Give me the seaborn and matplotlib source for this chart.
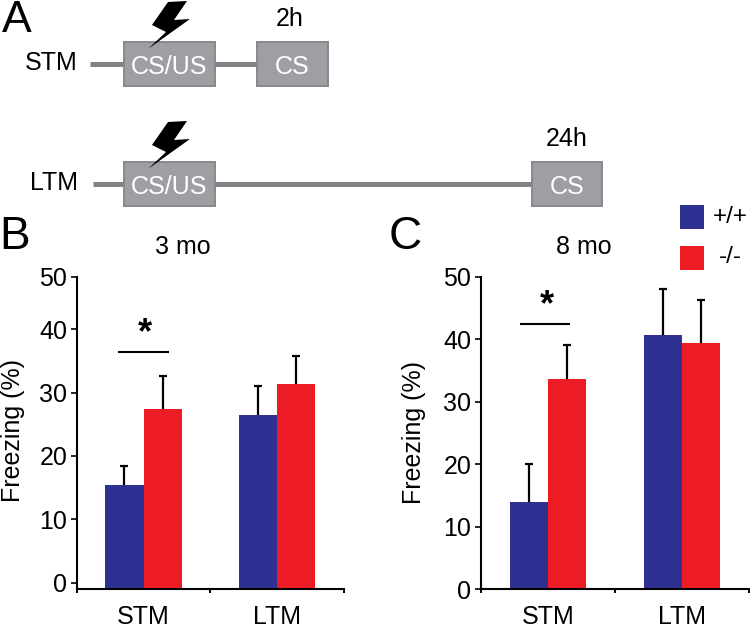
import numpy as np
import pandas as pd
import matplotlib
matplotlib.use("Agg")
import matplotlib.pyplot as plt
from matplotlib.patches import Polygon, Rectangle
import seaborn as sns

# values
groups = ["STM", "LTM"]
genotypes = ["+/+", "-/-"]
mo3_wt = [15.5, 26.5]
mo3_ko = [27.4, 31.4]
mo3_wt_err = [2.9, 4.5]
mo3_ko_err = [5.2, 4.4]
mo8_wt = [13.9, 40.7]
mo8_ko = [33.7, 39.4]
mo8_wt_err = [6.1, 7.4]
mo8_ko_err = [5.3, 6.9]
tick_labels = ["0", "10", "20", "30", "40", "50"]

BLUE = "#2e3192"
RED = "#ed1c24"
W, H = 750, 629

sns.set_style("ticks")
plt.rcParams["font.family"] = ["Liberation Sans", "DejaVu Sans"]

fig = plt.figure(figsize=(W / 100, H / 100), dpi=100)


def px_axes(left, top, right, bottom):
    return fig.add_axes([left / W, 1 - bottom / H, (right - left) / W, (bottom - top) / H])


def panel(ax, wt, ko, wt_err, ko_err, ylim, ticks):
    df = pd.DataFrame({
        "group": groups * 2,
        "genotype": [genotypes[0]] * 2 + [genotypes[1]] * 2,
        "freezing": wt + ko,
    })
    sns.barplot(data=df, x="group", y="freezing", hue="genotype", order=groups,
                palette=[BLUE, RED], width=0.57, gap=0, saturation=1, errorbar=None,
                legend=False, linewidth=0, ax=ax)
    for cont, errs in zip(ax.containers, [wt_err, ko_err]):
        for bar, err in zip(cont, errs):
            top = bar.get_height()
            x = bar.get_x() + bar.get_width() / 2
            _, caps, _ = ax.errorbar(x, top, yerr=[[0], [err]], color="black", elinewidth=1.6,
                                     capsize=2.6, capthick=1.6, zorder=1)
            caps[0].set_visible(False)  # upper whisker only
            # bars sit on the axis line, which is a bit below the 0 tick in panel B
            bar.set_y(ylim[0])
            bar.set_height(top - ylim[0])
            bar.set_zorder(2)
    ax.set_xlim(-0.5, 1.5)
    ax.set_ylim(*ylim)
    ax.set_yticks(ticks, tick_labels)
    ax.set_xticks([-0.5, 0.5, 1.5])
    ax.tick_params(axis="x", which="major", length=3, width=1.4, color="black", labelbottom=False)
    ax.set_xticks([0, 1], groups, minor=True)
    ax.tick_params(axis="x", which="minor", length=0, pad=11.5, labelsize=18, labelcolor="black")
    ax.tick_params(axis="y", length=4.3, width=1.4, pad=2.5, labelsize=18, labelcolor="black")
    ax.set_xlabel("")
    ax.set_ylabel("")
    ax.patch.set_alpha(0)
    for side in ["top", "right"]:
        ax.spines[side].set_visible(False)
    for side in ["left", "bottom"]:
        ax.spines[side].set_linewidth(1.5)
        ax.spines[side].set_color("black")


# the 50 tick in panel B sits closer to 40 than the other spacing
ax_b = px_axes(76.7, 276.7, 344, 589.3)
panel(ax_b, mo3_wt, mo3_ko, mo3_wt_err, mo3_ko_err, (-1.04, 48.3), [0, 10, 20, 30, 40, 48.3])
ax_c = px_axes(480.7, 276.7, 749, 589.3)
panel(ax_c, mo8_wt, mo8_ko, mo8_wt_err, mo8_ko_err, (0, 50), [0, 10, 20, 30, 40, 50])

# overlay in pixel coordinates for the schematic and the annotations
ov = fig.add_axes([0, 0, 1, 1], zorder=5)
ov.set_xlim(0, W)
ov.set_ylim(H, 0)
ov.axis("off")
ov.patch.set_alpha(0)


def label(x, y, s, size=18, ha="center", color="black", **kw):
    ov.text(x, y, s, fontsize=size, ha=ha, va="center", color=color, **kw)


LINE = "#808285"
BOX = "#9d9fa2"
EDGE = "#87898c"


def box(x0, x1, y0, s):
    ov.add_patch(Rectangle((x0, y0), x1 - x0, 44, fc=BOX, ec=EDGE, lw=1.4, zorder=3))
    label((x0 + x1) / 2, y0 + 24.5, s, color="white", zorder=4)


def bolt(dy):
    pts = np.array([[168, 2], [187, 1], [174, 20], [190, 19], [148, 49], [166, 32], [152, 25]], dtype=float)
    pts[:, 1] += dy
    ov.add_patch(Polygon(pts, closed=True, fc="black", ec="none", zorder=6))


ov.plot([90, 257], [64, 64], color=LINE, lw=3.6, solid_capstyle="butt", zorder=2)
ov.plot([93, 532], [184, 184], color=LINE, lw=3.6, solid_capstyle="butt", zorder=2)
box(123.5, 215, 42, "CS/US")
box(257, 328, 42, "CS")
box(123.5, 215, 162, "CS/US")
box(532, 602, 162, "CS")
bolt(0)
bolt(120)
label(290, 18.5, "2h")
label(567, 138.5, "24h")
label(78, 63.5, "STM", ha="right")
label(78, 183.5, "LTM", ha="right")

label(17, 20.5, "A", size=32)
label(14.5, 237, "B", size=33)
label(405, 237, "C", size=33)
label(183, 246.5, "3 mo")
label(584, 246.5, "8 mo")
label(13, 430, "Freezing (%)", rotation=90)
label(414, 433, "Freezing (%)", rotation=90)

# significance marks
ov.plot([118, 169], [351.7, 351.7], color="black", lw=1.5, solid_capstyle="butt")
ov.plot([520, 570], [324, 324], color="black", lw=1.5, solid_capstyle="butt")
label(145, 334, "*", size=26, fontweight="bold")
label(547, 306, "*", size=26, fontweight="bold")

# legend
ov.add_patch(Rectangle((680, 205), 24, 24, fc=BLUE, ec="none"))
ov.add_patch(Rectangle((680, 246), 24, 24, fc=RED, ec="none"))
label(730, 217, genotypes[0], size=17.5)
label(730, 257, genotypes[1], size=17.5)

fig.savefig("out.png", dpi=100)
